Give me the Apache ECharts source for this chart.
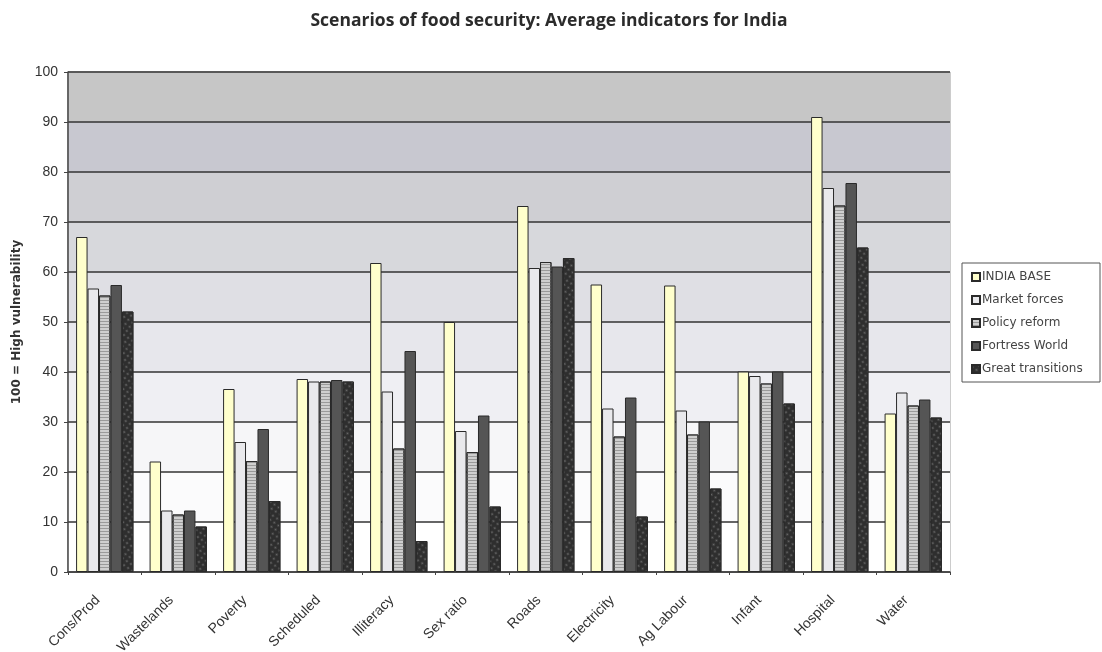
<!DOCTYPE html>
<html>
<head>
<meta charset="utf-8">
<script src="https://cdn.jsdelivr.net/npm/echarts@6/dist/echarts.min.js"></script>
<style>
  html, body { margin: 0; padding: 0; background: #ffffff; }
  #chart { width: 1102px; height: 652px; }
</style>
</head>
<body>
<div id="chart"></div>
<script>
// Indicator categories along the x axis
const categories = ['Cons/Prod', 'Wastelands', 'Poverty', 'Scheduled', 'Illiteracy', 'Sex ratio',
  'Roads', 'Electricity', 'Ag Labour', 'Infant', 'Hospital', 'Water'];

// Scenario names, in legend order
const seriesNames = ['INDIA BASE', 'Market forces', 'Policy reform', 'Fortress World', 'Great transitions'];

// Average indicator values per scenario (100 = high vulnerability)
const indiaBase        = [67.0, 22.1, 36.6, 38.6, 61.8, 50.0, 73.2, 57.5, 57.3, 40.1, 91.0, 31.7];
const marketForces     = [56.7, 12.3, 26.0, 38.1, 36.1, 28.2, 60.8, 32.7, 32.3, 39.2, 76.8, 35.9];
const policyReform     = [55.3, 11.5, 22.2, 38.1, 24.7, 24.0, 62.0, 27.1, 27.5, 37.7, 73.3, 33.3];
const fortressWorld    = [57.4, 12.3, 28.6, 38.4, 44.2, 31.3, 61.1, 34.9, 30.1, 40.1, 77.8, 34.5];
const greatTransitions = [52.1,  9.1, 14.2, 38.1,  6.2, 13.1, 62.8, 11.1, 16.7, 33.7, 64.9, 30.9];

// Value axis range and step
const yMin = 0;
const yMax = 100;
const yStep = 10;

// Banded background, from the lowest band up to the top one
const bandColors = ['#ffffff', '#fbfbfc', '#f6f6f8', '#efeff3', '#e7e7ec', '#dfdfe4',
  '#d7d8dc', '#cfcfd3', '#c8c8d0', '#c6c6c6'];

const edge = '#2a2a2a';
const styles = [
  { color: '#ffffcc', borderColor: edge, borderWidth: 1 },
  { color: '#e9e9ec', borderColor: edge, borderWidth: 1 },
  { color: '#cfcfcf', borderColor: edge, borderWidth: 1,
    decal: { symbol: 'rect', symbolSize: 1, color: '#9a9a9a', dashArrayX: [1, 0], dashArrayY: [1, 2] } },
  { color: '#555555', borderColor: edge, borderWidth: 1 },
  { color: '#2e2e2e', borderColor: edge, borderWidth: 1,
    decal: { symbol: 'circle', symbolSize: 0.7, color: '#6a6a6a', dashArrayX: [3, 2], dashArrayY: [3, 2], rotation: 0.6 } }
];
const values = [indiaBase, marketForces, policyReform, fortressWorld, greatTransitions];

const chart = echarts.init(document.getElementById('chart'), null, { renderer: 'canvas' });

chart.setOption({
  animation: false,
  backgroundColor: '#ffffff',
  title: {
    text: 'Scenarios of food security: Average indicators for India',
    left: 544,
    textAlign: 'center',
    top: 7,
    textStyle: { fontFamily: 'Open Sans', fontWeight: 'bold', fontSize: 17.5, color: '#2b2b2b' }
  },
  legend: {
    orient: 'vertical',
    left: 966,
    top: 266,
    itemWidth: 8,
    itemHeight: 8,
    itemGap: 11,
    icon: 'rect',
    textStyle: { fontFamily: 'DejaVu Sans', fontSize: 12, color: '#444', padding: [0, 0, 0, -3] },
    data: seriesNames
  },
  graphic: [{
    type: 'rect',
    z: 1,
    silent: true,
    shape: { x: 962, y: 263, width: 138, height: 119 },
    style: { fill: '#ffffff', stroke: '#555555', lineWidth: 1 }
  }],
  grid: {
    left: 68, right: 152, top: 72, bottom: 80,
    outerBoundsMode: 'none',
    containLabel: false,
    show: true, borderColor: '#9a9a9a', borderWidth: 1
  },
  xAxis: {
    type: 'category',
    data: categories,
    axisLine: { lineStyle: { color: '#444', width: 1.5 } },
    axisTick: { show: true, length: 3, lineStyle: { color: '#444' } },
    axisLabel: {
      rotate: 45, margin: 19, interval: 0, padding: [0, 10, 0, 0],
      fontFamily: 'Liberation Sans', fontSize: 14, color: '#333'
    }
  },
  yAxis: {
    type: 'value',
    min: yMin, max: yMax, interval: yStep,
    name: '100 = High vulnerability',
    nameLocation: 'middle',
    nameGap: 45,
    nameTextStyle: { fontFamily: 'DejaVu Sans', fontWeight: 'bold', fontSize: 12, color: '#333' },
    axisLine: { show: true, lineStyle: { color: '#444', width: 1.5 } },
    axisTick: { show: true, length: 4, lineStyle: { color: '#444' } },
    axisLabel: { margin: 10, fontFamily: 'Liberation Sans', fontSize: 14, color: '#333' },
    splitLine: { show: true, lineStyle: { color: '#333333', width: 1.5 } },
    splitArea: { show: true, areaStyle: { color: bandColors } }
  },
  series: seriesNames.map((name, i) => ({
    name: name,
    type: 'bar',
    data: values[i],
    barGap: '0%',
    barCategoryGap: '22%',
    itemStyle: styles[i]
  }))
});
</script>
</body>
</html>
